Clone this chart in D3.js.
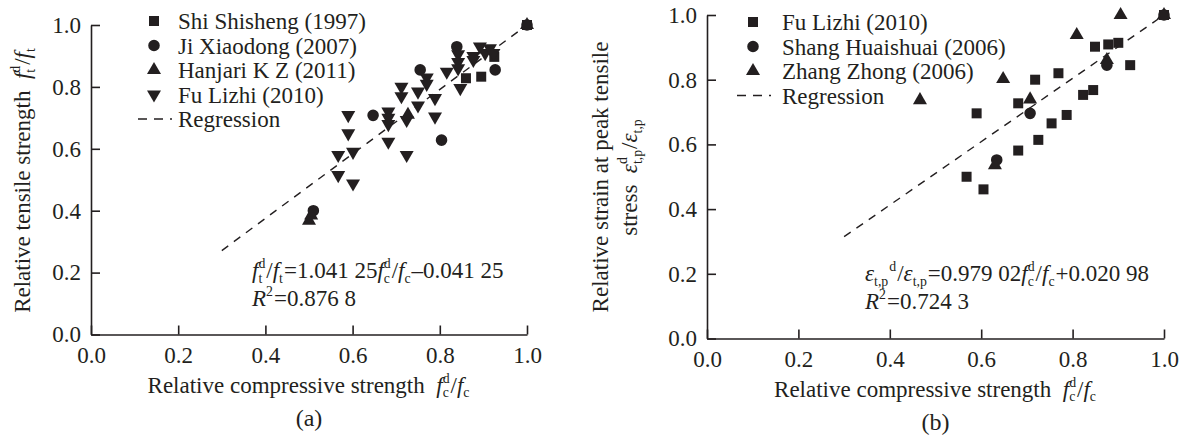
<!DOCTYPE html>
<html>
<head>
<meta charset="utf-8">
<script src="https://cdn.jsdelivr.net/npm/d3@7"></script>
<style>
  body { margin: 0; background: #fff; }
</style>
</head>
<body>
<div id="chart"></div>
<script>
var svgWidth = 1183;
var svgHeight = 439;
var ink = "#231f20";
var fs = 23;
var serif = "Liberation Serif";

// ---- panel (a) data: relative tensile strength vs relative compressive strength
var shiX = [0.860, 0.895, 0.925, 1.000];
var shiY = [0.828, 0.833, 0.897, 1.000];
var jiX = [0.510, 0.647, 0.755, 0.804, 0.839, 0.927, 1.000];
var jiY = [0.400, 0.708, 0.855, 0.628, 0.930, 0.855, 1.000];
var hanX = [0.500, 0.505, 0.727, 1.000];
var hanY = [0.368, 0.385, 0.710, 1.000];
var fuAX = [0.567, 0.601, 0.567, 0.601, 0.590, 0.590, 0.682, 0.682, 0.682, 0.682,
            0.724, 0.724, 0.712, 0.712, 0.750, 0.750, 0.770, 0.770, 0.789, 0.789,
            0.816, 0.842, 0.842, 0.842, 0.847, 0.877, 0.877, 0.892, 0.904, 0.915, 0.923];
var fuAY = [0.515, 0.488, 0.580, 0.590, 0.650, 0.709, 0.720, 0.700, 0.680, 0.623,
            0.693, 0.580, 0.800, 0.770, 0.785, 0.740, 0.830, 0.810, 0.764, 0.704,
            0.849, 0.905, 0.880, 0.860, 0.796, 0.900, 0.887, 0.930, 0.909, 0.925, 0.909];
var regA = [1.04125, -0.04125];

// ---- panel (b) data: relative strain at peak tensile stress
var fuBX = [0.568, 0.605, 0.590, 0.681, 0.681, 0.718, 0.725, 0.754, 0.769, 0.787,
            0.823, 0.845, 0.849, 0.878, 0.900, 0.926, 1.000];
var fuBY = [0.500, 0.461, 0.696, 0.727, 0.581, 0.800, 0.614, 0.665, 0.820, 0.691,
            0.753, 0.768, 0.902, 0.909, 0.914, 0.845, 1.000];
var shangX = [0.634, 0.707, 0.875, 1.000];
var shangY = [0.552, 0.696, 0.845, 1.000];
var zhangX = [0.466, 0.630, 0.648, 0.707, 0.809, 0.875, 0.905, 1.000];
var zhangY = [0.737, 0.536, 0.802, 0.739, 0.938, 0.861, 1.000, 1.000];
var regB = [0.97902, 0.02098];

var tickValues = [0, 0.2, 0.4, 0.6, 0.8, 1.0];

var svg = d3.select("#chart").append("svg")
  .attr("width", svgWidth)
  .attr("height", svgHeight);

function txt(g) {
  return g.append("text").style("font-family", serif).attr("fill", ink);
}

// draws text made of pieces (italic, stacked sup/sub) one after another, returns width
function rich(g, parts, size) {
  var cx = 0;
  parts.forEach(function(p) {
    if (p.sup != null || p.sub != null) {
      var w = 0;
      if (p.sup != null) {
        var t1 = txt(g).attr("x", cx).attr("y", -size * 0.42)
          .attr("font-size", size * 0.6).text(p.sup);
        w = Math.max(w, t1.node().getComputedTextLength());
      }
      if (p.sub != null) {
        var t2 = txt(g).attr("x", cx).attr("y", size * 0.2)
          .attr("font-size", size * 0.6).text(p.sub);
        w = Math.max(w, t2.node().getComputedTextLength());
      }
      cx += w + 1;
    } else {
      var t = txt(g).attr("x", cx).attr("y", 0)
        .attr("font-size", size)
        .style("font-style", p.i ? "italic" : null)
        .text(p.t);
      cx += t.node().getComputedTextLength();
    }
  });
  return cx;
}

function centered(x, y, parts, size, rotate) {
  var g = svg.append("g");
  var w = rich(g, parts, size);
  if (rotate) g.attr("transform", `translate(${x}, ${y}) rotate(-90) translate(${-w / 2}, 0)`);
  else g.attr("transform", `translate(${x - w / 2}, ${y})`);
}

function leftText(x, y, parts, size) {
  var g = svg.append("g").attr("transform", `translate(${x}, ${y})`);
  rich(g, parts, size);
}

var shapes = {
  square: d3.symbol().type(d3.symbolSquare).size(100),
  circle: d3.symbol().type(d3.symbolCircle).size(105),
  up: d3.symbol().type(d3.symbolTriangle).size(85),
  down: d3.symbol().type(d3.symbolTriangle).size(85)
};

var sp = "\u00a0";

function drawPanel(p) {
  var x = d3.scaleLinear().domain([0, 1]).range([p.x0, p.x1]);
  var y = d3.scaleLinear().domain([0, 1]).range([p.yBot, p.yTop]);

  var xAxis = svg.append("g")
    .attr("transform", `translate(0, ${p.yBot})`)
    .call(d3.axisBottom(x).tickValues(tickValues).tickFormat(d3.format(".1f"))
      .tickSizeInner(-9).tickSizeOuter(0).tickPadding(12));
  var yAxis = svg.append("g")
    .attr("transform", `translate(${p.x0}, 0)`)
    .call(d3.axisLeft(y).tickValues(tickValues).tickFormat(d3.format(".1f"))
      .tickSizeInner(-9).tickSizeOuter(0).tickPadding(10));
  [xAxis, yAxis].forEach(function(a) {
    a.selectAll("path, line").attr("stroke", ink).attr("stroke-width", 1.6);
    a.selectAll("text").attr("font-size", fs).style("font-family", serif).attr("fill", ink);
  });

  // regression line
  var reg = p.reg;
  svg.append("line")
    .attr("x1", x(0.3)).attr("y1", y(reg[0] * 0.3 + reg[1]))
    .attr("x2", x(1.0)).attr("y2", y(reg[0] * 1.0 + reg[1]))
    .attr("stroke", ink).attr("stroke-width", 1.4)
    .attr("stroke-dasharray", "8,7");

  // points
  p.series.forEach(function(s) {
    svg.append("g").selectAll("path")
      .data(s.xs.map(function(v, i) { return [v, s.ys[i]]; }))
      .enter()
      .append("path")
      .attr("d", shapes[s.shape])
      .attr("fill", ink)
      .attr("transform", function(d) {
        return `translate(${x(d[0])}, ${y(d[1])})` + (s.shape === "down" ? " rotate(180)" : "");
      });
  });

  // legend
  p.series.forEach(function(s, i) {
    var ly = p.legY + i * p.legGap;
    svg.append("path").attr("d", shapes[s.shape]).attr("fill", ink)
      .attr("transform", `translate(${p.legX}, ${ly})` + (s.shape === "down" ? " rotate(180)" : ""));
    txt(svg).attr("x", p.legX + p.legText).attr("y", ly + 8)
      .attr("font-size", fs).text(s.name);
  });
  var ry = p.legY + p.series.length * p.legGap;
  svg.append("line")
    .attr("x1", p.legX - 16).attr("x2", p.legX + 18)
    .attr("y1", ry).attr("y2", ry)
    .attr("stroke", ink).attr("stroke-width", 1.4)
    .attr("stroke-dasharray", "9,7");
  txt(svg).attr("x", p.legX + p.legText).attr("y", ry + 8)
    .attr("font-size", fs).text("Regression");

  // x title and panel tag
  centered((p.x0 + p.x1) / 2, p.yBot + 58, [
    {t: "Relative compressive strength" + sp + sp}, {t: "f", i: true}, {sup: "d", sub: "c"},
    {t: "/"}, {t: "f", i: true}, {sub: "c"}
  ], fs);
  txt(svg).attr("x", (p.x0 + p.x1) / 2).attr("y", p.yBot + 91)
    .attr("text-anchor", "middle").attr("font-size", fs + 1).text(p.tag);

  return {x: x, y: y};
}

// panel (a)
drawPanel({
  x0: 91, x1: 527, yTop: 25, yBot: 334.5, reg: regA, tag: "(a)",
  legX: 154, legY: 21, legGap: 24.5, legText: 24,
  series: [
    {name: "Shi Shisheng (1997)", shape: "square", xs: shiX, ys: shiY},
    {name: "Ji Xiaodong (2007)", shape: "circle", xs: jiX, ys: jiY},
    {name: "Hanjari K Z (2011)", shape: "up", xs: hanX, ys: hanY},
    {name: "Fu Lizhi (2010)", shape: "down", xs: fuAX, ys: fuAY}
  ]
});

// panel (b)
drawPanel({
  x0: 707, x1: 1164, yTop: 15, yBot: 338.5, reg: regB, tag: "(b)",
  legX: 753, legY: 22, legGap: 24.5, legText: 29,
  series: [
    {name: "Fu Lizhi (2010)", shape: "square", xs: fuBX, ys: fuBY},
    {name: "Shang Huaishuai (2006)", shape: "circle", xs: shangX, ys: shangY},
    {name: "Zhang Zhong (2006)", shape: "up", xs: zhangX, ys: zhangY}
  ]
});

// y titles
centered(30, 180, [
  {t: "Relative tensile strength" + sp + sp}, {t: "f", i: true}, {sup: "d", sub: "t"},
  {t: "/"}, {t: "f", i: true}, {sub: "t"}
], fs, true);
centered(608, 177, [{t: "Relative strain at peak tensile"}], fs, true);
centered(637, 177, [
  {t: "stress" + sp + sp}, {t: "ε", i: true}, {sup: "d", sub: "t,p"},
  {t: "/"}, {t: "ε", i: true}, {sub: "t,p"}
], fs, true);

// regression equations
leftText(252, 278, [
  {t: "f", i: true}, {sup: "d", sub: "t"}, {t: "/"}, {t: "f", i: true}, {sub: "t"},
  {t: "=1.041 25"}, {t: "f", i: true}, {sup: "d", sub: "c"}, {t: "/"}, {t: "f", i: true}, {sub: "c"},
  {t: "–0.041 25"}
], fs);
leftText(252, 306, [{t: "R", i: true}, {sup: "2"}, {t: "=0.876 8"}], fs);

leftText(865, 281, [
  {t: "ε", i: true}, {sub: "t,p"}, {sup: "d"}, {t: "/"}, {t: "ε", i: true}, {sub: "t,p"},
  {t: "=0.979 02"}, {t: "f", i: true}, {sup: "d", sub: "c"}, {t: "/"}, {t: "f", i: true}, {sub: "c"},
  {t: "+0.020 98"}
], fs);
leftText(865, 309, [{t: "R", i: true}, {sup: "2"}, {t: "=0.724 3"}], fs);
</script>
</body>
</html>
